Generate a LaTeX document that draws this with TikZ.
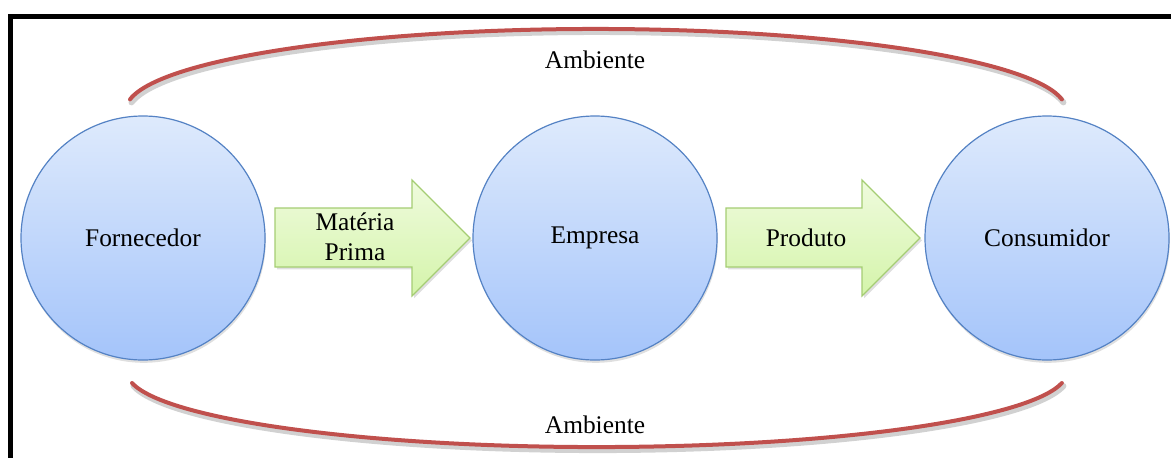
\documentclass[tikz,border=0pt]{standalone}
\usepackage{fontspec}
\setmainfont{Liberation Serif}
\usetikzlibrary{shadows}

\definecolor{circTop}{RGB}{222,234,252}
\definecolor{circBot}{RGB}{164,196,250}
\definecolor{circLine}{RGB}{84,130,196}
\definecolor{arrTop}{RGB}{239,251,221}
\definecolor{arrBot}{RGB}{212,244,170}
\definecolor{arrLine}{RGB}{165,205,115}
\definecolor{envRed}{RGB}{192,80,77}

\begin{document}
\begin{tikzpicture}[x=0.5pt,y=0.5pt,
  font=\fontsize{12.7}{15}\selectfont,
  party/.style={circle, inner sep=0pt, minimum size=122pt,
    draw=circLine, line width=0.6pt, top color=circTop, bottom color=circBot,
    drop shadow={shadow xshift=0.4pt, shadow yshift=-1.4pt, opacity=0.25}},
  flowarrow/.style={draw=arrLine, line width=0.6pt, top color=arrTop, bottom color=arrBot,
    drop shadow={shadow xshift=1pt, shadow yshift=-1.2pt, opacity=0.25}},
  envline/.style={envRed, line width=2pt, line cap=round},
  envshadow/.style={black, opacity=0.18, line width=3pt, line cap=round},
  label/.style={inner sep=0pt, align=center}]

  \useasboundingbox (0,0) rectangle (1171,457);
  \clip (0,0) rectangle (1171,457);

  % outer frame, running past the right and bottom edges
  \draw[black, line width=2.2pt] (10.3,-20) -- (10.3,440.5) -- (1200,440.5);

  % environment arcs above and below
  \draw[envshadow, shift={(1.5,-3)}] (130,357.6) arc[start angle=172.5, end angle=7.5, x radius=470, y radius=81];
  \draw[envline] (130,357.6) arc[start angle=172.5, end angle=7.5, x radius=470, y radius=81];
  \draw[envshadow, shift={(1.5,-3)}] (132,74) arc[start angle=188.4, end angle=351.6, x radius=470, y radius=75];
  \draw[envline] (132,74) arc[start angle=188.4, end angle=351.6, x radius=470, y radius=75];

  \node[label] (envTop) at (595,397) {Ambiente};
  \node[label] (envBot) at (595,32) {Ambiente};

  % the three parties of the chain
  \node[party] (forn) at (143,219) {};
  \node[label] at (forn.center) {Fornecedor};
  \node[party] (emp) at (595,219) {};
  \node[label] at (emp.center) {Empresa};
  \node[party] (cons) at (1047,219) {};
  \node[label] at (cons.center) {Consumidor};

  % block arrows between the parties
  \draw[flowarrow] (275,190) -- (412,190) -- (412,161) -- (470,219) -- (412,277) -- (412,249) -- (275,249) -- cycle;
  \node[label] (mat) at (355,220) {Matéria\\Prima};
  \draw[flowarrow] (726,190) -- (862,190) -- (862,161) -- (920,219) -- (862,277) -- (862,249) -- (726,249) -- cycle;
  \node[label] (prod) at (806,219) {Produto};
\end{tikzpicture}
\end{document}
